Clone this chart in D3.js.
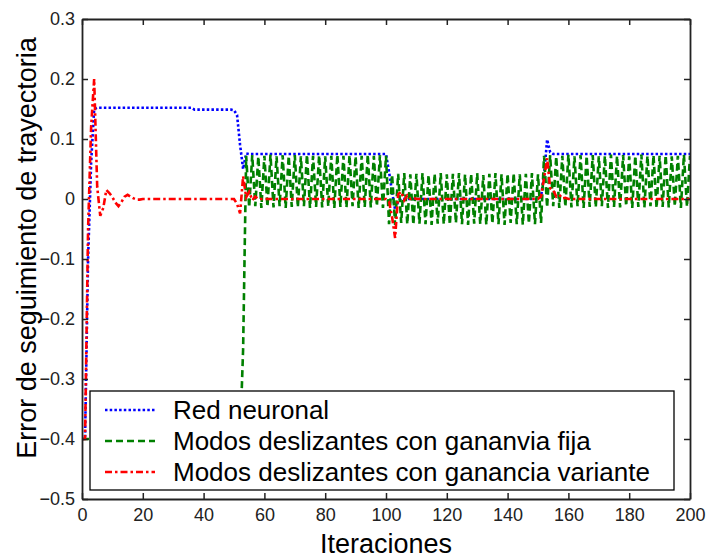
<!DOCTYPE html>
<html>
<head>
<meta charset="utf-8">
<script src="https://cdn.jsdelivr.net/npm/d3@7/dist/d3.min.js"></script>
<style>
  body { margin: 0; background: #fff; }
  svg { display: block; font-family: Arial, "Liberation Sans", sans-serif; }
</style>
</head>
<body>
<div id="corpo"></div>
<script>
// error de seguimiento por iteracion (0..200)
var redNeuronal = [
  -0.4, -0.4, -0.1, 0.06, 0.15, 0.152, 0.152, 0.152, 0.152, 0.152,
  0.152, 0.152, 0.152, 0.152, 0.152, 0.152, 0.152, 0.152, 0.152, 0.152,
  0.152, 0.152, 0.152, 0.152, 0.152, 0.152, 0.152, 0.152, 0.152, 0.152,
  0.152, 0.152, 0.152, 0.152, 0.152, 0.152, 0.152, 0.149, 0.149, 0.149,
  0.149, 0.149, 0.149, 0.149, 0.149, 0.149, 0.149, 0.149, 0.149, 0.149,
  0.148, 0.14, 0.09, 0.05, 0.076, 0.075, 0.075, 0.075, 0.075, 0.075,
  0.075, 0.075, 0.075, 0.075, 0.075, 0.075, 0.075, 0.075, 0.075, 0.075,
  0.075, 0.075, 0.075, 0.075, 0.075, 0.075, 0.075, 0.075, 0.075, 0.075,
  0.075, 0.075, 0.075, 0.075, 0.075, 0.075, 0.075, 0.075, 0.075, 0.075,
  0.075, 0.075, 0.075, 0.075, 0.075, 0.075, 0.075, 0.075, 0.075, 0.075,
  0.075, 0.045, 0.012, -0.018, -0.004, 0.001, 0, 0, 0, 0,
  0, 0, 0, 0, 0, 0, 0, 0, 0, 0,
  0, 0, 0, 0, 0, 0, 0, 0, 0, 0,
  0, 0, 0, 0, 0, 0, 0, 0, 0, 0,
  0, 0, 0, 0, 0, 0, 0, 0, 0, 0,
  0, 0.004, 0.04, 0.099, 0.078, 0.075, 0.075, 0.075, 0.075, 0.075,
  0.075, 0.075, 0.075, 0.075, 0.075, 0.075, 0.075, 0.075, 0.075, 0.075,
  0.075, 0.075, 0.075, 0.075, 0.075, 0.075, 0.075, 0.075, 0.075, 0.075,
  0.075, 0.075, 0.075, 0.075, 0.075, 0.075, 0.075, 0.075, 0.075, 0.075,
  0.075, 0.075, 0.075, 0.075, 0.075, 0.075, 0.075, 0.075, 0.075, 0.075,
  0.075
];

var modosFija = [
  -0.4, -0.4, -0.4, -0.4, -0.4, -0.4, -0.4, -0.4, -0.4, -0.4,
  -0.4, -0.4, -0.4, -0.4, -0.4, -0.4, -0.4, -0.4, -0.4, -0.4,
  -0.4, -0.4, -0.4, -0.4, -0.4, -0.4, -0.4, -0.4, -0.4, -0.4,
  -0.4, -0.4, -0.4, -0.4, -0.4, -0.4, -0.4, -0.4, -0.4, -0.4,
  -0.4, -0.4, -0.4, -0.4, -0.4, -0.4, -0.4, -0.4, -0.4, -0.4,
  -0.4, -0.4, -0.4, -0.25, 0.072, -0.014, 0.073, -0.012, 0.071, -0.015,
  0.072, -0.013, 0.074, -0.014, 0.071, -0.012, 0.073, -0.015, 0.072, -0.013,
  0.073, -0.014, 0.071, -0.012, 0.074, -0.015, 0.072, -0.013, 0.073, -0.014,
  0.071, -0.012, 0.072, -0.015, 0.074, -0.013, 0.072, -0.014, 0.073, -0.012,
  0.071, -0.015, 0.072, -0.013, 0.074, -0.014, 0.072, -0.012, 0.073, -0.015,
  0.072, -0.042, 0.041, -0.043, 0.042, -0.040, 0.043, -0.042, 0.041, -0.043,
  0.042, -0.041, 0.043, -0.042, 0.040, -0.043, 0.042, -0.041, 0.043, -0.042,
  0.041, -0.043, 0.042, -0.040, 0.043, -0.042, 0.041, -0.043, 0.042, -0.041,
  0.043, -0.042, 0.040, -0.043, 0.042, -0.041, 0.043, -0.042, 0.041, -0.043,
  0.042, -0.040, 0.043, -0.042, 0.041, -0.043, 0.042, -0.041, 0.043, -0.042,
  0.041, -0.040, 0.072, -0.014, 0.073, -0.012, 0.071, -0.015, 0.072, -0.013,
  0.074, -0.014, 0.071, -0.012, 0.073, -0.015, 0.072, -0.013, 0.073, -0.014,
  0.071, -0.012, 0.072, -0.015, 0.074, -0.013, 0.072, -0.014, 0.073, -0.012,
  0.071, -0.015, 0.072, -0.013, 0.074, -0.014, 0.072, -0.012, 0.073, -0.015,
  0.072, -0.013, 0.073, -0.014, 0.071, -0.012, 0.072, -0.015, 0.074, -0.013,
  0.072
];

var modosVariante = [
  -0.4, -0.4, -0.05, 0.12, 0.2, 0.02, -0.028, -0.015, 0.015, 0.01,
  0.003, -0.006, -0.012, -0.005, 0.004, 0.007, 0.004, 0.001, -0.001, -0.001,
  0, 0, 0, 0, 0, 0, 0, 0, 0, 0,
  0, 0, 0, 0, 0, 0, 0, 0, 0, 0,
  0, 0, 0, 0, 0, 0, 0, 0, 0, 0,
  0, -0.008, -0.024, 0.038, 0.003, 0.012, -0.002, 0.004, 0, 0,
  0, 0, 0, 0, 0, 0, 0, 0, 0, 0,
  0, 0, 0, 0, 0, 0, 0, 0, 0, 0,
  0, 0, 0, 0, 0, 0, 0, 0, 0, 0,
  0, 0, 0, 0, 0, 0, 0, 0, 0, 0,
  0, -0.004, -0.03, -0.065, 0.008, 0.012, -0.002, 0.006, 0, 0.002,
  0, 0, 0, 0, 0, 0, 0, 0, 0, 0,
  0, 0, 0, 0, 0, 0, 0, 0, 0, 0,
  0, 0, 0, 0, 0, 0, 0, 0, 0, 0,
  0, 0, 0, 0, 0, 0, 0, 0, 0, 0,
  0, 0.004, 0.035, 0.068, 0.018, 0.015, 0.004, 0.007, 0.001, 0.002,
  0, 0, 0, 0, 0, 0, 0, 0, 0, 0,
  0, 0, 0, 0, 0, 0, 0, 0, 0, 0,
  0, 0, 0, 0, 0, 0, 0, 0, 0, 0,
  0, 0, 0, 0, 0, 0, 0, 0, 0, 0,
  0
];

var xTicks = [0, 20, 40, 60, 80, 100, 120, 140, 160, 180, 200];
var yTicks = [-0.5, -0.4, -0.3, -0.2, -0.1, 0, 0.1, 0.2, 0.3];
var nombres = ["Red neuronal", "Modos deslizantes con gananvia fija", "Modos deslizantes con ganancia variante"];

var width = 707, height = 559;
var mLeft = 82, mRight = 690, mTop = 19, mBottom = 499;

var x = d3.scaleLinear().domain([0, 200]).range([mLeft, mRight]);
var y = d3.scaleLinear().domain([-0.5, 0.3]).range([mBottom, mTop]);

var series = [
  {nombre: nombres[0], valores: redNeuronal, color: "#0000ff", dash: "2.5,2.2"},
  {nombre: nombres[1], valores: modosFija, color: "#008000", dash: "7,4"},
  {nombre: nombres[2], valores: modosVariante, color: "#ff0000", dash: "7,3,2.5,3"}
];

var svg = d3.select("#corpo").append("svg")
    .attr("width", width)
    .attr("height", height);

svg.append("defs").append("clipPath")
    .attr("id", "area")
  .append("rect")
    .attr("x", mLeft).attr("y", mTop)
    .attr("width", mRight - mLeft).attr("height", mBottom - mTop);

var line = d3.line()
    .x(function(d, i) { return x(i); })
    .y(function(d) { return y(d); });

svg.append("g")
    .attr("clip-path", "url(#area)")
  .selectAll("path")
    .data(series)
  .enter().append("path")
    .attr("d", function(d) { return line(d.valores); })
    .style("fill", "none")
    .style("stroke", function(d) { return d.color; })
    .style("stroke-width", 2.6)
    .style("stroke-dasharray", function(d) { return d.dash; });

// ejes (ticks hacia adentro, caja completa)
var fmt = function(d) { return d == 0 ? "0" : d3.format(".1f")(d); };

svg.append("g")
    .attr("transform", "translate(0," + mBottom + ")")
    .call(d3.axisBottom(x).tickValues(xTicks).tickSize(-6).tickSizeOuter(0).tickPadding(9));
svg.append("g")
    .attr("transform", "translate(0," + mTop + ")")
    .call(d3.axisTop(x).tickValues(xTicks).tickSize(-6).tickSizeOuter(0).tickFormat(""));
svg.append("g")
    .attr("transform", "translate(" + mLeft + ",0)")
    .call(d3.axisLeft(y).tickValues(yTicks).tickSize(-6).tickSizeOuter(0).tickPadding(7).tickFormat(fmt));
svg.append("g")
    .attr("transform", "translate(" + mRight + ",0)")
    .call(d3.axisRight(y).tickValues(yTicks).tickSize(-6).tickSizeOuter(0).tickFormat(""));

svg.selectAll(".domain").style("stroke", "#222").style("stroke-width", 1.8);
svg.selectAll(".tick line").style("stroke", "#222").style("stroke-width", 1.5);
svg.selectAll(".tick text")
    .style("font-family", "Arial, 'Liberation Sans', sans-serif")
    .style("font-size", "18px")
    .style("fill", "#222");

// leyenda
var leg = svg.append("g");
leg.append("rect")
    .attr("x", 90).attr("y", 391)
    .attr("width", 584).attr("height", 99)
    .style("fill", "#fff")
    .style("stroke", "#000")
    .style("stroke-width", 1.3);

var item = leg.selectAll(".item")
    .data(series)
  .enter().append("g")
    .attr("class", "item")
    .attr("transform", function(d, i) { return "translate(0," + (410 + i * 31) + ")"; });

item.append("line")
    .attr("x1", 105).attr("x2", 155)
    .style("stroke", function(d) { return d.color; })
    .style("stroke-width", 2.6)
    .style("stroke-dasharray", function(d) { return d.dash; });

item.append("text")
    .attr("x", 173).attr("y", 9)
    .style("font-size", "26px")
    .style("fill", "#000")
    .text(function(d) { return d.nombre; });

// titulos
svg.append("text")
    .attr("x", mLeft + (mRight - mLeft) / 2)
    .attr("y", 553)
    .attr("text-anchor", "middle")
    .style("font-size", "27px")
    .style("fill", "#000")
    .text("Iteraciones");

svg.append("text")
    .attr("transform", "translate(36,248) rotate(-90)")
    .attr("text-anchor", "middle")
    .style("font-size", "27px")
    .style("fill", "#000")
    .text("Error de seguimiento de trayectoria");
</script>
</body>
</html>
